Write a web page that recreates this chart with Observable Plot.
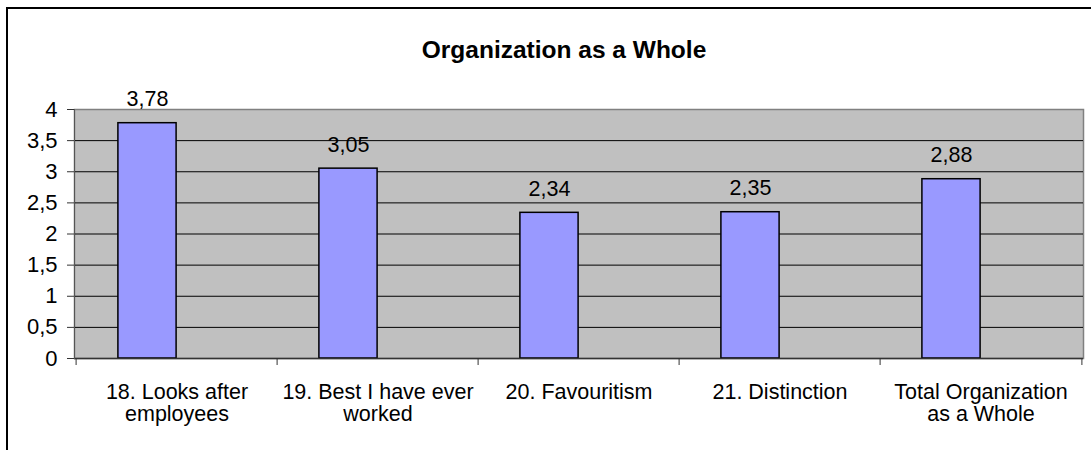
<!DOCTYPE html>
<html>
<head>
<meta charset="utf-8">
<script src="https://cdn.jsdelivr.net/npm/d3@7"></script>
<script src="https://cdn.jsdelivr.net/npm/@observablehq/plot@0.6"></script>
<style>
  html, body { margin: 0; padding: 0; background: #fff; overflow: hidden; }
  #wrap { position: relative; width: 1091px; height: 450px; }
  #border { position: absolute; left: 6px; top: 7px; width: 1200px; height: 600px;
            border-left: 2px solid #000; border-top: 2px solid #000; pointer-events: none; }
  #chart { position: absolute; left: 0; top: 0; }
</style>
</head>
<body>
<div id="wrap"><div id="chart"></div><div id="border"></div></div>
<script>
const title = "Organization as a Whole";
const categories = [
  "18. Looks after employees",
  "19. Best I have ever worked",
  "20. Favouritism",
  "21. Distinction",
  "Total Organization as a Whole"
];
const categoryLines = [
  "18. Looks after\nemployees",
  "19. Best I have ever\nworked",
  "20. Favouritism",
  "21. Distinction",
  "Total Organization\nas a Whole"
];
const values = [3.78, 3.05, 2.34, 2.35, 2.88];
const yTicks = [0, 0.5, 1, 1.5, 2, 2.5, 3, 3.5, 4];

const data = categories.map((c, i) => ({cat: c, value: values[i]}));
const comma = s => String(s).replace(".", ",");

const W = 1091, H = 450;
const mL = 74, mR = 8, mT = 109, mB = 92;
const bw = (W - mL - mR) / categories.length;
const barW = 59;
const font = "'Liberation Sans', Arial, sans-serif";

const chart = Plot.plot({
  width: W,
  height: H,
  marginLeft: mL,
  marginRight: mR,
  marginTop: mT,
  marginBottom: mB,
  style: {fontFamily: font, fontSize: "21px", color: "#000", background: "transparent", overflow: "visible"},
  x: {type: "band", domain: categories, padding: 0},
  y: {domain: [0, 4]},
  marks: [
    Plot.frame({fill: "#c0c0c0", stroke: "#808080", strokeWidth: 1.5}),
    Plot.ruleY(yTicks.filter(t => t > 0 && t < 4), {stroke: "#000", strokeWidth: 1}),
    Plot.barY(data, {
      x: "cat", y: "value", fill: "#9999ff", stroke: "#000", strokeWidth: 1.5,
      insetLeft: bw / 2 - barW, insetRight: bw / 2
    }),
    Plot.ruleY([0], {stroke: "#333", strokeWidth: 1.5}),
    Plot.frame({anchor: "left", stroke: "#555", strokeWidth: 1}),
    Plot.axisY({
      ticks: yTicks, tickFormat: comma, tickSize: 7, tickPadding: 10,
      fontSize: 22, stroke: "#333", label: null
    }),
    Plot.ruleX(categories, {x: d => d, dx: -bw / 2, insetTop: H - mT - mB, insetBottom: -7, stroke: "#333"}),
    Plot.ruleX([categories[categories.length - 1]], {x: d => d, dx: bw / 2, insetTop: H - mT - mB, insetBottom: -7, stroke: "#333"}),
    Plot.axisX({
      tickSize: 0, tickPadding: 24, label: null, fontSize: 21.5, lineHeight: 1.05,
      tickFormat: d => categoryLines[categories.indexOf(d)]
    }),
    Plot.text(data, {
      x: "cat", y: "value", text: d => comma(d.value.toFixed(2)),
      dx: -barW / 2, dy: -17, lineAnchor: "bottom", fontSize: 21.5, fill: "#000"
    }),
    Plot.text([title], {
      frameAnchor: "top", dx: -15, dy: -52, lineAnchor: "bottom",
      fontSize: 24.5, fontWeight: "bold", fill: "#000"
    })
  ]
});
document.getElementById("chart").appendChild(chart);
</script>
</body>
</html>
